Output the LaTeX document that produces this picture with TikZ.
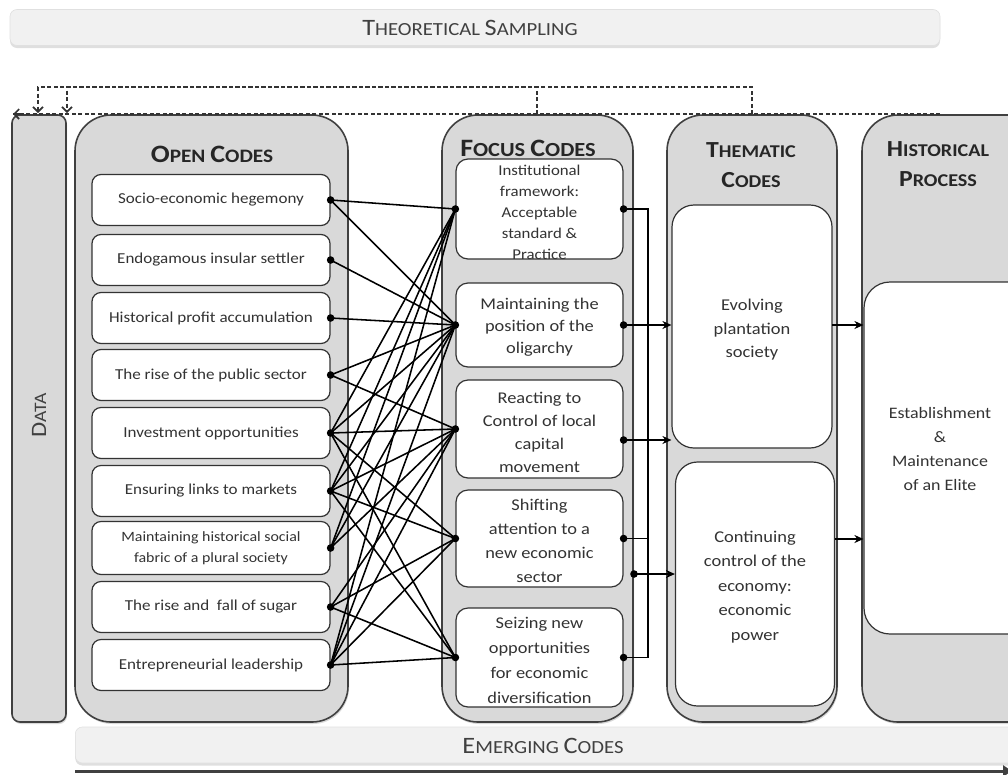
\documentclass[tikz,border=0pt]{standalone}
\usepackage{fontspec}
\setmainfont{Carlito}[FakeStretch=1.12]
\usetikzlibrary{arrows.meta,shadows,calc}
\definecolor{cfill}{HTML}{D9D9D9}
\definecolor{cline}{HTML}{404040}
\definecolor{txt}{HTML}{333333}
\definecolor{barfill}{HTML}{F1F1F1}
\newcommand\mysc[4]{{\fontsize{#1}{#1}\selectfont #3}{\fontsize{#2}{#2}\selectfont #4}}
\newcommand\hsc[2]{{\fontsize{23}{23}\selectfont #1}#2}
\newcommand\hscb[2]{{\fontsize{25}{25}\selectfont #1}#2}
\begin{document}
\begin{tikzpicture}[x=1pt,y=-1pt,
  cont/.style={draw=cline,line width=1.6pt,fill=cfill,rounded corners=36pt},
  shad/.style={drop shadow={shadow xshift=1pt,shadow yshift=-2pt,opacity=0.3}},
  bar/.style={fill=barfill,draw=black!12,line width=0.6pt,rounded corners=7pt,inner sep=0pt,drop shadow={shadow xshift=0pt,shadow yshift=-2.5pt,opacity=0.25}},
  bartxt/.style={text=black!75,inner sep=0pt,font=\fontsize{18.5}{18.5}\selectfont},
  ocbox/.style={draw=black!80,line width=1.2pt,fill=white,rounded corners=9pt,minimum width=238pt,minimum height=51pt,inner sep=0pt,align=center,text=txt,font=\fontsize{15.2}{18}\selectfont},
  fcbox/.style={draw=black!80,line width=1.2pt,fill=white,rounded corners=12pt,minimum width=167pt,inner sep=0pt},
  ftxt/.style={align=center,text=txt,inner sep=0pt},
  tbox/.style={draw=black!80,line width=1.2pt,fill=white,rounded corners=22pt,inner sep=0pt},
  hdr/.style={font=\fontsize{18}{30}\selectfont\bfseries,text=black!85,align=center,inner sep=0pt},
  conn/.style={line width=1.55pt,black},
  arr/.style={conn,-{Stealth[length=9pt,width=8pt]}},
  fbk/.style={dash pattern=on 4pt off 2.5pt,line width=1.6pt,black!80}
]
\useasboundingbox (0,0) rectangle (1008,774);
\clip (0,0) rectangle (1008,774);

% top bar
\node[bar,minimum width=930pt,minimum height=36pt] (ts) at (475,27.5) {};
\node[bartxt] (tst) at (470,28) {\mysc{23.5}{18.5}{T}{HEORETICAL} \mysc{23.5}{18.5}{S}{AMPLING}};

% containers
\node[draw=cline,line width=1.6pt,fill=cfill,rounded corners=8pt,minimum width=54pt,minimum height=607pt,inner sep=0pt,shad] (data) at (39,418.5) {};
\node[rotate=90,bartxt] (datat) at (39,415) {\mysc{22}{17.5}{D}{ATA}};
\draw[cont,shad] (75,115) rectangle (348,722);
\draw[cont,shad] (442,115) rectangle (633,722);
\draw[cont,shad] (667,115) rectangle (837,722);
\draw[cont,shad] (862,115) rectangle (1045,722);

% headers
\node[hdr,font=\fontsize{19}{30}\selectfont\bfseries] (hoc) at (212,154) {\hscb{O}{PEN} \hscb{C}{ODES}};
\node[hdr,font=\fontsize{20}{30}\selectfont\bfseries] (hfc) at (528,148) {\hscb{F}{OCUS} \hscb{C}{ODES}};
\node[hdr] (htc) at (751,165) {\hsc{T}{HEMATIC}\\\hsc{C}{ODES}};
\node[hdr] (hhp) at (938,164) {\hsc{H}{ISTORICAL}\\\hsc{P}{ROCESS}};

% open codes
\node[ocbox] (o1) at (211,200) {Socio-economic hegemony};
\node[ocbox] (o2) at (211,260) {Endogamous insular settler};
\node[ocbox] (o3) at (211,318) {Historical profit accumulation};
\node[ocbox] (o4) at (211,375) {The rise of the public sector};
\node[ocbox] (o5) at (211,433) {Investment opportunities};
\node[ocbox] (o6) at (211,491) {Ensuring links to markets};
\node[ocbox,minimum height=53pt,font=\fontsize{14.2}{21}\selectfont] (o7) at (211,548) {Maintaining historical social\\fabric of a plural society};
\node[ocbox] (o8) at (211,607) {The rise and \ fall of sugar};
\node[ocbox] (o9) at (211,665) {Entrepreneurial leadership};

% focus codes
\node[fcbox,minimum height=100pt] (f1) at (539.5,209) {};
\node[fcbox,minimum height=84pt] (f2) at (539.5,325) {};
\node[fcbox,minimum height=98pt] (f3) at (539.5,429) {};
\node[fcbox,minimum height=97pt] (f4) at (539.5,538.5) {};
\node[fcbox,minimum height=99pt] (f5) at (539.5,657.5) {};
\node[ftxt,font=\fontsize{15}{21}\selectfont] (f1t) at (539.5,212) {Institutional\\framework:\\Acceptable\\standard \&\\Practice};
\node[ftxt,font=\fontsize{16.4}{22}\selectfont] (f2t) at (539.5,327) {Maintaining the\\position of the\\oligarchy};
\node[ftxt,font=\fontsize{16.4}{23}\selectfont] (f3t) at (539.5,432) {Reacting to\\Control of local\\capital\\movement};
\node[ftxt,font=\fontsize{16.4}{24}\selectfont] (f4t) at (539.5,541) {Shifting\\attention to a\\new economic\\sector};
\node[ftxt,font=\fontsize{16.4}{25}\selectfont] (f5t) at (539.5,660) {Seizing new\\opportunities\\for economic\\diversification};

% thematic codes
\node[tbox,minimum width=160pt,minimum height=243pt] (t1) at (752,326.5) {};
\node[tbox,minimum width=159pt,minimum height=244pt] (t2) at (755,584) {};
\node[ftxt,font=\fontsize{16.5}{23.5}\selectfont] (t1t) at (752,330) {Evolving\\plantation\\society};
\node[ftxt,font=\fontsize{16.5}{24.5}\selectfont] (t2t) at (755,587) {Continuing\\control of the\\economy:\\economic\\power};

% historical process
\node[tbox,rounded corners=26pt,minimum width=176pt,minimum height=352pt] (h1) at (952,458) {};
\node[ftxt,font=\fontsize{16}{23.7}\selectfont] (h1t) at (940,449) {Establishment\\\&\\Maintenance\\of an Elite};

% open -> focus connections
\foreach \a/\b in {o1/f1,o1/f2,o2/f2,o3/f2,o4/f2,o4/f3,
  o5/f1,o5/f2,o5/f3,o5/f4,o5/f5,
  o6/f1,o6/f2,o6/f3,o6/f4,o6/f5,
  o7/f1,o7/f2,o7/f3,
  o8/f3,o8/f4,o8/f5,
  o9/f1,o9/f2,o9/f3,o9/f4,o9/f5}
  \draw[conn] (\a.east) -- (\b.west);
\foreach \n in {o1,o2,o3,o4,o5,o6,o7,o8,o9}
  \fill (\n.east) circle[radius=3.8pt];
\foreach \n in {f1,f2,f3,f4,f5}
  \fill (\n.west) circle[radius=3.8pt];

% focus -> thematic
\coordinate (bx) at (648,0);
\coordinate (f3r) at ($(f3.east)+(0,11)$);
\coordinate (fcr) at (634,574);
\draw[conn] (f1.east) -- (f1.east -| bx) -- (f5.east -| bx) -- (f5.east);
\draw[conn] (f4.east) -- (f4.east -| bx);
\draw[arr,line width=2.2pt] (f2.east) -- (f2.east -| t1.west);
\draw[arr] (f3r) -- (f3r -| t1.west);
\draw[arr] (fcr) -- (fcr -| t2.west);
\foreach \p in {f1.east,f2.east,f4.east,f5.east,f3r,fcr}
  \fill (\p) circle[radius=3.8pt];

% thematic -> historical
\coordinate (ta) at (832,325);
\coordinate (tb) at (835,539);
\draw[arr] (ta) -- (ta -| h1.west);
\draw[arr] (tb) -- (tb -| h1.west);

% feedback (dashed)
\coordinate (fbA) at (537,114);
\coordinate (fbB) at (752,114);
\coordinate (fbE) at (940,114);
\coordinate (inA) at (67,113);
\coordinate (inB) at (38,113);
\coordinate (inC) at (13,114);
\draw[fbk] (fbE) -- (inC);
\draw[fbk,-{Straight Barb[length=5pt,width=10pt]}] (fbA) -- (fbA |- 0,87) -- (inA |- 0,87) -- (inA);
\draw[fbk,-{Straight Barb[length=5pt,width=10pt]}] (fbB) -- (fbB |- 0,87) -- (inB |- 0,87) -- (inB);
\draw[line width=1.6pt,black!80,-{Straight Barb[length=5pt,width=10pt]}] (22,114) -- (inC);

% emerging codes
\node[bar,minimum width=960pt,minimum height=36pt,anchor=west] (ec) at (75,745) {};
\node[bartxt] (ect) at (543,746) {\mysc{23.5}{18.5}{E}{MERGING} \mysc{23.5}{18.5}{C}{ODES}};
\coordinate (ecl) at (75,771);
\coordinate (ecr) at (1012,771);
\draw[line width=3pt,black!75,-{Triangle[length=9pt,width=11pt]}] (ecl) -- (ecr);
\end{tikzpicture}
\end{document}
